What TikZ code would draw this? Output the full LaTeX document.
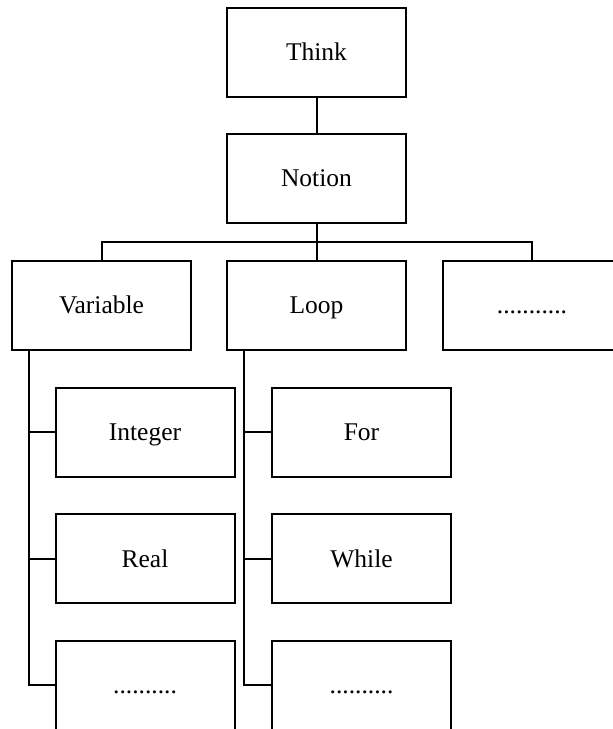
\documentclass[tikz,border=0pt]{standalone}
\usepackage{fontspec}
\setmainfont{Liberation Serif}
\usepackage{tikz}

\tikzset{
  box/.style={draw, line width=2, rectangle, minimum width=179, minimum height=89,
    inner sep=0, text height=17pt, text depth=0pt, font=\fontsize{25.5}{30}\selectfont},
  link/.style={line width=2}
}

\begin{document}
\begin{tikzpicture}[x=1pt,y=1pt,yscale=-1]
\useasboundingbox (0,0) rectangle (613,729);
\clip (0,0) rectangle (613,729);

%Boxes
\node[box] (think) at (316.5,52) {Think};
\node[box] (notion) at (316.5,178) {Notion};
\node[box] (variable) at (101.5,305) {Variable};
\node[box] (loop) at (316.5,305) {Loop};
\node[box] (more) at (532,305) {...........};
\node[box] (integer) at (145,432) {Integer};
\node[box] (real) at (145,558.5) {Real};
\node[box] (varmore) at (145,685) {..........};
\node[box] (for) at (361.5,432) {For};
\node[box] (while) at (361.5,558.5) {While};
\node[box] (loopmore) at (361.5,685) {..........};

%Straight Lines
\draw[link] (think) -- (notion);
\coordinate (bus) at (316.5,242);
\draw[link] (notion) -- (bus);
\draw[link] (bus) -| (variable);
\draw[link] (bus) -| (more);
\draw[link] (bus) -- (loop);

%Side lines
\coordinate (vartrunk) at ([xshift=18]variable.south west);
\coordinate (looptrunk) at ([xshift=18]loop.south west);
\foreach \n in {integer,real,varmore}
  \draw[link] (vartrunk) |- (\n.west);
\foreach \n in {for,while,loopmore}
  \draw[link] (looptrunk) |- (\n.west);

\end{tikzpicture}
\end{document}
